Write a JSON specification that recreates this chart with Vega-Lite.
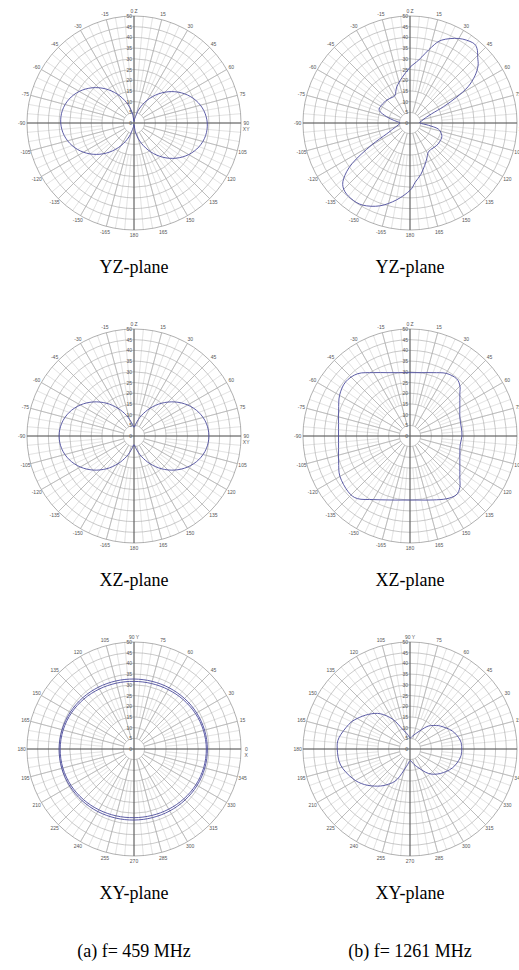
{
"$schema": "https://vega.github.io/schema/vega-lite/v6.json",
"background": "white",
"padding": {"left": 17, "top": 8, "right": 0, "bottom": 0},
"autosize": {"type": "pad"},
"bounds": "flush",
"columns": 2,
"spacing": {"row": 99, "column": 62},
"datasets": {
"rings": [{"r":5,"k":"ring"},{"r":10,"k":"ring"},{"r":15,"k":"ring"},{"r":20,"k":"ring"},{"r":25,"k":"ring"},{"r":30,"k":"ring"},{"r":35,"k":"ring"},{"r":40,"k":"ring"},{"r":45,"k":"ring"},{"r":50,"k":"outer"}],
"spokes": [
{"a":0,"r1":0,"r2":50,"k":"axis"},{"a":90,"r1":0,"r2":50,"k":"axis"},{"a":180,"r1":0,"r2":50,"k":"axis"},{"a":270,"r1":0,"r2":50,"k":"axis"},
{"a":15,"r1":5,"r2":50,"k":"major"},{"a":30,"r1":5,"r2":50,"k":"major"},{"a":45,"r1":5,"r2":50,"k":"major"},{"a":60,"r1":5,"r2":50,"k":"major"},{"a":75,"r1":5,"r2":50,"k":"major"},
{"a":105,"r1":5,"r2":50,"k":"major"},{"a":120,"r1":5,"r2":50,"k":"major"},{"a":135,"r1":5,"r2":50,"k":"major"},{"a":150,"r1":5,"r2":50,"k":"major"},{"a":165,"r1":5,"r2":50,"k":"major"},
{"a":195,"r1":5,"r2":50,"k":"major"},{"a":210,"r1":5,"r2":50,"k":"major"},{"a":225,"r1":5,"r2":50,"k":"major"},{"a":240,"r1":5,"r2":50,"k":"major"},{"a":255,"r1":5,"r2":50,"k":"major"},
{"a":285,"r1":5,"r2":50,"k":"major"},{"a":300,"r1":5,"r2":50,"k":"major"},{"a":315,"r1":5,"r2":50,"k":"major"},{"a":330,"r1":5,"r2":50,"k":"major"},{"a":345,"r1":5,"r2":50,"k":"major"},
{"a":5,"r1":15,"r2":50,"k":"minor"},{"a":10,"r1":15,"r2":50,"k":"minor"},{"a":20,"r1":15,"r2":50,"k":"minor"},{"a":25,"r1":15,"r2":50,"k":"minor"},{"a":35,"r1":15,"r2":50,"k":"minor"},{"a":40,"r1":15,"r2":50,"k":"minor"},
{"a":50,"r1":15,"r2":50,"k":"minor"},{"a":55,"r1":15,"r2":50,"k":"minor"},{"a":65,"r1":15,"r2":50,"k":"minor"},{"a":70,"r1":15,"r2":50,"k":"minor"},{"a":80,"r1":15,"r2":50,"k":"minor"},{"a":85,"r1":15,"r2":50,"k":"minor"},
{"a":95,"r1":15,"r2":50,"k":"minor"},{"a":100,"r1":15,"r2":50,"k":"minor"},{"a":110,"r1":15,"r2":50,"k":"minor"},{"a":115,"r1":15,"r2":50,"k":"minor"},{"a":125,"r1":15,"r2":50,"k":"minor"},{"a":130,"r1":15,"r2":50,"k":"minor"},
{"a":140,"r1":15,"r2":50,"k":"minor"},{"a":145,"r1":15,"r2":50,"k":"minor"},{"a":155,"r1":15,"r2":50,"k":"minor"},{"a":160,"r1":15,"r2":50,"k":"minor"},{"a":170,"r1":15,"r2":50,"k":"minor"},{"a":175,"r1":15,"r2":50,"k":"minor"},
{"a":185,"r1":15,"r2":50,"k":"minor"},{"a":190,"r1":15,"r2":50,"k":"minor"},{"a":200,"r1":15,"r2":50,"k":"minor"},{"a":205,"r1":15,"r2":50,"k":"minor"},{"a":215,"r1":15,"r2":50,"k":"minor"},{"a":220,"r1":15,"r2":50,"k":"minor"},
{"a":230,"r1":15,"r2":50,"k":"minor"},{"a":235,"r1":15,"r2":50,"k":"minor"},{"a":245,"r1":15,"r2":50,"k":"minor"},{"a":250,"r1":15,"r2":50,"k":"minor"},{"a":260,"r1":15,"r2":50,"k":"minor"},{"a":265,"r1":15,"r2":50,"k":"minor"},
{"a":275,"r1":15,"r2":50,"k":"minor"},{"a":280,"r1":15,"r2":50,"k":"minor"},{"a":290,"r1":15,"r2":50,"k":"minor"},{"a":295,"r1":15,"r2":50,"k":"minor"},{"a":305,"r1":15,"r2":50,"k":"minor"},{"a":310,"r1":15,"r2":50,"k":"minor"},
{"a":320,"r1":15,"r2":50,"k":"minor"},{"a":325,"r1":15,"r2":50,"k":"minor"},{"a":335,"r1":15,"r2":50,"k":"minor"},{"a":340,"r1":15,"r2":50,"k":"minor"},{"a":350,"r1":15,"r2":50,"k":"minor"},{"a":355,"r1":15,"r2":50,"k":"minor"}
],
"rlab": [{"r":0,"t":"0"},{"r":5,"t":"5"},{"r":10,"t":"10"},{"r":15,"t":"15"},{"r":20,"t":"20"},{"r":25,"t":"25"},{"r":30,"t":"30"},{"r":35,"t":"35"},{"r":40,"t":"40"},{"r":45,"t":"45"},{"r":50,"t":"50"}],
"alabA": [{"a":0,"t":"0    Z"},{"a":15,"t":"15"},{"a":30,"t":"30"},{"a":45,"t":"45"},{"a":60,"t":"60"},{"a":75,"t":"75"},{"a":90,"t":"90"},{"a":93,"t":"XY"},{"a":105,"t":"105"},{"a":120,"t":"120"},{"a":135,"t":"135"},{"a":150,"t":"150"},{"a":165,"t":"165"},{"a":180,"t":"180"},{"a":-165,"t":"-165"},{"a":-150,"t":"-150"},{"a":-135,"t":"-135"},{"a":-120,"t":"-120"},{"a":-105,"t":"-105"},{"a":-90,"t":"-90"},{"a":-75,"t":"-75"},{"a":-60,"t":"-60"},{"a":-45,"t":"-45"},{"a":-30,"t":"-30"},{"a":-15,"t":"-15"}],
"alabB": [{"a":90,"t":"90    Y"},{"a":75,"t":"75"},{"a":60,"t":"60"},{"a":45,"t":"45"},{"a":30,"t":"30"},{"a":15,"t":"15"},{"a":0,"t":"0"},{"a":-3,"t":"X"},{"a":345,"t":"345"},{"a":330,"t":"330"},{"a":315,"t":"315"},{"a":300,"t":"300"},{"a":285,"t":"285"},{"a":270,"t":"270"},{"a":255,"t":"255"},{"a":240,"t":"240"},{"a":225,"t":"225"},{"a":210,"t":"210"},{"a":195,"t":"195"},{"a":180,"t":"180"},{"a":165,"t":"165"},{"a":150,"t":"150"},{"a":135,"t":"135"},{"a":120,"t":"120"},{"a":105,"t":"105"}],
"p1": [{"a":-180,"g":0.74},{"a":-170,"g":2.22},{"a":-160,"g":6.94},{"a":-150,"g":12.29},{"a":-140,"g":17.73},{"a":-130,"g":22.84},{"a":-120,"g":27.29},{"a":-110,"g":30.8},{"a":-100,"g":33.16},{"a":-90,"g":34.24},{"a":-80,"g":33.97},{"a":-70,"g":32.37},{"a":-60,"g":29.52},{"a":-50,"g":25.6},{"a":-40,"g":20.86},{"a":-30,"g":15.57},{"a":-20,"g":10.11},{"a":-10,"g":4.93},{"a":0,"g":0.74},{"a":10,"g":2.22},{"a":20,"g":6.94},{"a":30,"g":12.29},{"a":40,"g":17.73},{"a":50,"g":22.84},{"a":60,"g":27.29},{"a":70,"g":30.8},{"a":80,"g":33.16},{"a":90,"g":34.24},{"a":100,"g":33.97},{"a":110,"g":32.37},{"a":120,"g":29.52},{"a":130,"g":25.6},{"a":140,"g":20.86},{"a":150,"g":15.57},{"a":160,"g":10.11},{"a":170,"g":4.93}],
"p2": [{"a":-180,"g":31.5},{"a":-170,"g":36.5},{"a":-160,"g":41.2},{"a":-150,"g":44.3},{"a":-142,"g":44.8},{"a":-135,"g":43.8},{"a":-130,"g":40.5},{"a":-125,"g":33},{"a":-120,"g":21},{"a":-115,"g":12},{"a":-110,"g":8.7},{"a":-100,"g":5.7},{"a":-90,"g":4.7},{"a":-85,"g":5.5},{"a":-80,"g":8},{"a":-75,"g":11.3},{"a":-68,"g":15.5},{"a":-58,"g":15.7},{"a":-45,"g":15.2},{"a":-35,"g":14.6},{"a":-28,"g":14.8},{"a":-20,"g":18},{"a":-10,"g":21.5},{"a":0,"g":26},{"a":8,"g":29.8},{"a":16,"g":37},{"a":21,"g":41.5},{"a":30,"g":45.6},{"a":38,"g":47.6},{"a":42,"g":46.8},{"a":46,"g":44},{"a":50,"g":41.5},{"a":54,"g":37.5},{"a":58,"g":32},{"a":61,"g":25},{"a":64,"g":17.5},{"a":67,"g":11},{"a":72,"g":7.5},{"a":80,"g":5.5},{"a":90,"g":4.7},{"a":97,"g":8.7},{"a":102,"g":13.5},{"a":111,"g":15.9},{"a":120,"g":16.4},{"a":130,"g":16.3},{"a":140,"g":15.8},{"a":148,"g":16.1},{"a":155,"g":18.5},{"a":161,"g":21},{"a":168,"g":24.5},{"a":175,"g":27.8}],
"p3": [{"a":-180,"g":4},{"a":-170,"g":6.24},{"a":-160,"g":10.2},{"a":-150,"g":14.96},{"a":-140,"g":19.98},{"a":-130,"g":24.78},{"a":-120,"g":28.98},{"a":-110,"g":32.24},{"a":-100,"g":34.3},{"a":-90,"g":35},{"a":-80,"g":34.3},{"a":-70,"g":32.24},{"a":-60,"g":28.98},{"a":-50,"g":24.78},{"a":-40,"g":19.98},{"a":-30,"g":14.96},{"a":-20,"g":10.2},{"a":-10,"g":6.24},{"a":0,"g":4},{"a":10,"g":6.24},{"a":20,"g":10.2},{"a":30,"g":14.96},{"a":40,"g":19.98},{"a":50,"g":24.78},{"a":60,"g":28.98},{"a":70,"g":32.24},{"a":80,"g":34.3},{"a":90,"g":35},{"a":100,"g":34.3},{"a":110,"g":32.24},{"a":120,"g":28.98},{"a":130,"g":24.78},{"a":140,"g":19.98},{"a":150,"g":14.96},{"a":160,"g":10.2},{"a":170,"g":6.24}],
"p4": [{"a":-170,"g":30.4},{"a":-160,"g":31.8},{"a":-150,"g":34.3},{"a":-140,"g":38.2},{"a":-132,"g":38.9},{"a":-120,"g":37.8},{"a":-110,"g":35.5},{"a":-100,"g":33.9},{"a":-90,"g":33.4},{"a":-80,"g":33.9},{"a":-70,"g":35.5},{"a":-60,"g":38},{"a":-50,"g":39.3},{"a":-40,"g":38},{"a":-30,"g":34.2},{"a":-20,"g":31.5},{"a":-10,"g":30.06},{"a":0,"g":29.6},{"a":10,"g":30.06},{"a":20,"g":31.5},{"a":30,"g":33.8},{"a":39,"g":34.5},{"a":45,"g":33},{"a":50,"g":30.4},{"a":60,"g":26.9},{"a":70,"g":24.8},{"a":80,"g":24.3},{"a":90,"g":24.3},{"a":100,"g":23.8},{"a":110,"g":24.8},{"a":120,"g":26.9},{"a":130,"g":30.4},{"a":136,"g":33.5},{"a":142,"g":35},{"a":150,"g":33.9},{"a":160,"g":31.8},{"a":170,"g":30.4},{"a":180,"g":29.9}],
"p5": [
{"s":"A","a":0,"g":34.3},{"s":"A","a":15,"g":34.13},{"s":"A","a":30,"g":33.8},{"s":"A","a":45,"g":33.38},{"s":"A","a":60,"g":32.98},{"s":"A","a":75,"g":32.73},{"s":"A","a":90,"g":32.7},{"s":"A","a":105,"g":32.91},{"s":"A","a":120,"g":33.33},{"s":"A","a":135,"g":33.87},{"s":"A","a":150,"g":34.4},{"s":"A","a":165,"g":34.81},{"s":"A","a":180,"g":35},{"s":"A","a":195,"g":34.94},{"s":"A","a":210,"g":34.65},{"s":"A","a":225,"g":34.22},{"s":"A","a":240,"g":33.77},{"s":"A","a":255,"g":33.4},{"s":"A","a":270,"g":33.2},{"s":"A","a":285,"g":33.21},{"s":"A","a":300,"g":33.42},{"s":"A","a":315,"g":33.73},{"s":"A","a":330,"g":34.05},{"s":"A","a":345,"g":34.26},
{"s":"B","a":0,"g":33.8},{"s":"B","a":15,"g":33.59},{"s":"B","a":30,"g":33.15},{"s":"B","a":45,"g":32.58},{"s":"B","a":60,"g":32.03},{"s":"B","a":75,"g":31.67},{"s":"B","a":90,"g":31.6},{"s":"B","a":105,"g":31.85},{"s":"B","a":120,"g":32.38},{"s":"B","a":135,"g":33.07},{"s":"B","a":150,"g":33.75},{"s":"B","a":165,"g":34.27},{"s":"B","a":180,"g":34.5},{"s":"B","a":195,"g":34.4},{"s":"B","a":210,"g":34},{"s":"B","a":225,"g":33.42},{"s":"B","a":240,"g":32.82},{"s":"B","a":255,"g":32.34},{"s":"B","a":270,"g":32.1},{"s":"B","a":285,"g":32.15},{"s":"B","a":300,"g":32.47},{"s":"B","a":315,"g":32.93},{"s":"B","a":330,"g":33.4},{"s":"B","a":345,"g":33.72}],
"p6": [{"a":0,"g":24.2},{"a":10,"g":23.8},{"a":23,"g":21.5},{"a":37,"g":17.8},{"a":45,"g":15.5},{"a":53,"g":13.1},{"a":67,"g":8.2},{"a":80,"g":6},{"a":90,"g":5.2},{"a":100,"g":7},{"a":111,"g":10},{"a":120,"g":16},{"a":130,"g":21.5},{"a":140,"g":25.2},{"a":150,"g":28.5},{"a":158,"g":30.8},{"a":171,"g":33.6},{"a":180,"g":34},{"a":193,"g":33.3},{"a":207,"g":30.2},{"a":218,"g":27},{"a":229,"g":23},{"a":238,"g":19.5},{"a":247,"g":15.5},{"a":258,"g":8.5},{"a":270,"g":5.5},{"a":280,"g":6.5},{"a":291,"g":8.8},{"a":307,"g":14.3},{"a":321,"g":18.2},{"a":336,"g":21.7},{"a":350,"g":23.8}]
},
"concat": [
{"width":214,"height":214,"title":{"text":"YZ-plane"},
"layer":[
{"data":{"name":"spokes"},"transform":[{"filter":"datum.k=='minor'"}],"mark":{"type":"arc","filled":false,"color":"#dcdcdc","strokeWidth":0.5},"encoding":{"theta":{"field":"a","type":"quantitative","stack":null,"scale":{"domain":[0,360],"range":[0,6.283185]}},"theta2":{"field":"a"},"radius":{"field":"r2","type":"quantitative","stack":null,"scale":{"type":"linear","domain":[0,50],"range":[0,107],"zero":true}},"radius2":{"field":"r1"}}},
{"data":{"name":"rings"},"mark":{"type":"arc","filled":false,"strokeWidth":0.6},"encoding":{"theta":{"value":0},"theta2":{"value":6.2832},"radius":{"field":"r","type":"quantitative","stack":null,"scale":{"type":"linear","domain":[0,50],"range":[0,107],"zero":true}},"color":{"field":"k","type":"nominal","scale":{"domain":["ring","outer"],"range":["#a4a4a4","#7a7a7a"]},"legend":null}}},
{"data":{"name":"spokes"},"transform":[{"filter":"datum.k=='major'"}],"mark":{"type":"arc","filled":false,"color":"#acacac","strokeWidth":0.55},"encoding":{"theta":{"field":"a","type":"quantitative","stack":null,"scale":{"domain":[0,360],"range":[0,6.283185]}},"theta2":{"field":"a"},"radius":{"field":"r2","type":"quantitative","stack":null,"scale":{"type":"linear","domain":[0,50],"range":[0,107],"zero":true}},"radius2":{"field":"r1"}}},
{"data":{"name":"spokes"},"transform":[{"filter":"datum.k=='axis'"}],"mark":{"type":"arc","filled":false,"color":"#666666","strokeWidth":0.75},"encoding":{"theta":{"field":"a","type":"quantitative","stack":null,"scale":{"domain":[0,360],"range":[0,6.283185]}},"theta2":{"field":"a"},"radius":{"field":"r2","type":"quantitative","stack":null,"scale":{"type":"linear","domain":[0,50],"range":[0,107],"zero":true}},"radius2":{"field":"r1"}}},
{"data":{"name":"rlab"},"mark":{"type":"text","align":"right","baseline":"middle","dx":-2,"font":"Liberation Sans","fontSize":5,"color":"#555555"},"encoding":{"theta":{"value":0},"radius":{"field":"r","type":"quantitative","stack":null,"scale":{"type":"linear","domain":[0,50],"range":[0,107],"zero":true}},"text":{"field":"t"}}},
{"data":{"name":"alabA"},"mark":{"type":"text","align":"center","baseline":"middle","font":"Liberation Sans","fontSize":5,"color":"#555555"},"encoding":{"theta":{"field":"a","type":"quantitative","stack":null,"scale":{"domain":[0,360],"range":[0,6.283185]}},"radius":{"datum":52.5,"type":"quantitative","scale":{"type":"linear","domain":[0,50],"range":[0,107],"zero":true}},"text":{"field":"t"}}},
{"data":{"name":"p1"},"transform":[{"calculate":"datum.g*sin(datum.a*PI/180)","as":"x"},{"calculate":"datum.g*cos(datum.a*PI/180)","as":"y"}],"mark":{"type":"line","interpolate":"cardinal-closed","color":"#4b4b9c","strokeWidth":0.9},"encoding":{"x":{"field":"x","type":"quantitative","scale":{"domain":[-50,50],"nice":false,"zero":false},"axis":null},"y":{"field":"y","type":"quantitative","scale":{"domain":[-50,50],"nice":false,"zero":false},"axis":null},"order":{"field":"a","type":"quantitative"}}}
]},
{"width":214,"height":214,"title":{"text":"YZ-plane"},
"layer":[
{"data":{"name":"spokes"},"transform":[{"filter":"datum.k=='minor'"}],"mark":{"type":"arc","filled":false,"color":"#dcdcdc","strokeWidth":0.5},"encoding":{"theta":{"field":"a","type":"quantitative","stack":null,"scale":{"domain":[0,360],"range":[0,6.283185]}},"theta2":{"field":"a"},"radius":{"field":"r2","type":"quantitative","stack":null,"scale":{"type":"linear","domain":[0,50],"range":[0,107],"zero":true}},"radius2":{"field":"r1"}}},
{"data":{"name":"rings"},"mark":{"type":"arc","filled":false,"strokeWidth":0.6},"encoding":{"theta":{"value":0},"theta2":{"value":6.2832},"radius":{"field":"r","type":"quantitative","stack":null,"scale":{"type":"linear","domain":[0,50],"range":[0,107],"zero":true}},"color":{"field":"k","type":"nominal","scale":{"domain":["ring","outer"],"range":["#a4a4a4","#7a7a7a"]},"legend":null}}},
{"data":{"name":"spokes"},"transform":[{"filter":"datum.k=='major'"}],"mark":{"type":"arc","filled":false,"color":"#acacac","strokeWidth":0.55},"encoding":{"theta":{"field":"a","type":"quantitative","stack":null,"scale":{"domain":[0,360],"range":[0,6.283185]}},"theta2":{"field":"a"},"radius":{"field":"r2","type":"quantitative","stack":null,"scale":{"type":"linear","domain":[0,50],"range":[0,107],"zero":true}},"radius2":{"field":"r1"}}},
{"data":{"name":"spokes"},"transform":[{"filter":"datum.k=='axis'"}],"mark":{"type":"arc","filled":false,"color":"#666666","strokeWidth":0.75},"encoding":{"theta":{"field":"a","type":"quantitative","stack":null,"scale":{"domain":[0,360],"range":[0,6.283185]}},"theta2":{"field":"a"},"radius":{"field":"r2","type":"quantitative","stack":null,"scale":{"type":"linear","domain":[0,50],"range":[0,107],"zero":true}},"radius2":{"field":"r1"}}},
{"data":{"name":"rlab"},"mark":{"type":"text","align":"right","baseline":"middle","dx":-2,"font":"Liberation Sans","fontSize":5,"color":"#555555"},"encoding":{"theta":{"value":0},"radius":{"field":"r","type":"quantitative","stack":null,"scale":{"type":"linear","domain":[0,50],"range":[0,107],"zero":true}},"text":{"field":"t"}}},
{"data":{"name":"alabA"},"mark":{"type":"text","align":"center","baseline":"middle","font":"Liberation Sans","fontSize":5,"color":"#555555"},"encoding":{"theta":{"field":"a","type":"quantitative","stack":null,"scale":{"domain":[0,360],"range":[0,6.283185]}},"radius":{"datum":52.5,"type":"quantitative","scale":{"type":"linear","domain":[0,50],"range":[0,107],"zero":true}},"text":{"field":"t"}}},
{"data":{"name":"p2"},"transform":[{"calculate":"datum.g*sin(datum.a*PI/180)","as":"x"},{"calculate":"datum.g*cos(datum.a*PI/180)","as":"y"}],"mark":{"type":"line","interpolate":"cardinal-closed","color":"#4b4b9c","strokeWidth":0.9},"encoding":{"x":{"field":"x","type":"quantitative","scale":{"domain":[-50,50],"nice":false,"zero":false},"axis":null},"y":{"field":"y","type":"quantitative","scale":{"domain":[-50,50],"nice":false,"zero":false},"axis":null},"order":{"field":"a","type":"quantitative"}}}
]},
{"width":214,"height":214,"title":{"text":"XZ-plane"},
"layer":[
{"data":{"name":"spokes"},"transform":[{"filter":"datum.k=='minor'"}],"mark":{"type":"arc","filled":false,"color":"#dcdcdc","strokeWidth":0.5},"encoding":{"theta":{"field":"a","type":"quantitative","stack":null,"scale":{"domain":[0,360],"range":[0,6.283185]}},"theta2":{"field":"a"},"radius":{"field":"r2","type":"quantitative","stack":null,"scale":{"type":"linear","domain":[0,50],"range":[0,107],"zero":true}},"radius2":{"field":"r1"}}},
{"data":{"name":"rings"},"mark":{"type":"arc","filled":false,"strokeWidth":0.6},"encoding":{"theta":{"value":0},"theta2":{"value":6.2832},"radius":{"field":"r","type":"quantitative","stack":null,"scale":{"type":"linear","domain":[0,50],"range":[0,107],"zero":true}},"color":{"field":"k","type":"nominal","scale":{"domain":["ring","outer"],"range":["#a4a4a4","#7a7a7a"]},"legend":null}}},
{"data":{"name":"spokes"},"transform":[{"filter":"datum.k=='major'"}],"mark":{"type":"arc","filled":false,"color":"#acacac","strokeWidth":0.55},"encoding":{"theta":{"field":"a","type":"quantitative","stack":null,"scale":{"domain":[0,360],"range":[0,6.283185]}},"theta2":{"field":"a"},"radius":{"field":"r2","type":"quantitative","stack":null,"scale":{"type":"linear","domain":[0,50],"range":[0,107],"zero":true}},"radius2":{"field":"r1"}}},
{"data":{"name":"spokes"},"transform":[{"filter":"datum.k=='axis'"}],"mark":{"type":"arc","filled":false,"color":"#666666","strokeWidth":0.75},"encoding":{"theta":{"field":"a","type":"quantitative","stack":null,"scale":{"domain":[0,360],"range":[0,6.283185]}},"theta2":{"field":"a"},"radius":{"field":"r2","type":"quantitative","stack":null,"scale":{"type":"linear","domain":[0,50],"range":[0,107],"zero":true}},"radius2":{"field":"r1"}}},
{"data":{"name":"rlab"},"mark":{"type":"text","align":"right","baseline":"middle","dx":-2,"font":"Liberation Sans","fontSize":5,"color":"#555555"},"encoding":{"theta":{"value":0},"radius":{"field":"r","type":"quantitative","stack":null,"scale":{"type":"linear","domain":[0,50],"range":[0,107],"zero":true}},"text":{"field":"t"}}},
{"data":{"name":"alabA"},"mark":{"type":"text","align":"center","baseline":"middle","font":"Liberation Sans","fontSize":5,"color":"#555555"},"encoding":{"theta":{"field":"a","type":"quantitative","stack":null,"scale":{"domain":[0,360],"range":[0,6.283185]}},"radius":{"datum":52.5,"type":"quantitative","scale":{"type":"linear","domain":[0,50],"range":[0,107],"zero":true}},"text":{"field":"t"}}},
{"data":{"name":"p3"},"transform":[{"calculate":"datum.g*sin(datum.a*PI/180)","as":"x"},{"calculate":"datum.g*cos(datum.a*PI/180)","as":"y"}],"mark":{"type":"line","interpolate":"cardinal-closed","color":"#4b4b9c","strokeWidth":0.9},"encoding":{"x":{"field":"x","type":"quantitative","scale":{"domain":[-50,50],"nice":false,"zero":false},"axis":null},"y":{"field":"y","type":"quantitative","scale":{"domain":[-50,50],"nice":false,"zero":false},"axis":null},"order":{"field":"a","type":"quantitative"}}}
]},
{"width":214,"height":214,"title":{"text":"XZ-plane"},
"layer":[
{"data":{"name":"spokes"},"transform":[{"filter":"datum.k=='minor'"}],"mark":{"type":"arc","filled":false,"color":"#dcdcdc","strokeWidth":0.5},"encoding":{"theta":{"field":"a","type":"quantitative","stack":null,"scale":{"domain":[0,360],"range":[0,6.283185]}},"theta2":{"field":"a"},"radius":{"field":"r2","type":"quantitative","stack":null,"scale":{"type":"linear","domain":[0,50],"range":[0,107],"zero":true}},"radius2":{"field":"r1"}}},
{"data":{"name":"rings"},"mark":{"type":"arc","filled":false,"strokeWidth":0.6},"encoding":{"theta":{"value":0},"theta2":{"value":6.2832},"radius":{"field":"r","type":"quantitative","stack":null,"scale":{"type":"linear","domain":[0,50],"range":[0,107],"zero":true}},"color":{"field":"k","type":"nominal","scale":{"domain":["ring","outer"],"range":["#a4a4a4","#7a7a7a"]},"legend":null}}},
{"data":{"name":"spokes"},"transform":[{"filter":"datum.k=='major'"}],"mark":{"type":"arc","filled":false,"color":"#acacac","strokeWidth":0.55},"encoding":{"theta":{"field":"a","type":"quantitative","stack":null,"scale":{"domain":[0,360],"range":[0,6.283185]}},"theta2":{"field":"a"},"radius":{"field":"r2","type":"quantitative","stack":null,"scale":{"type":"linear","domain":[0,50],"range":[0,107],"zero":true}},"radius2":{"field":"r1"}}},
{"data":{"name":"spokes"},"transform":[{"filter":"datum.k=='axis'"}],"mark":{"type":"arc","filled":false,"color":"#666666","strokeWidth":0.75},"encoding":{"theta":{"field":"a","type":"quantitative","stack":null,"scale":{"domain":[0,360],"range":[0,6.283185]}},"theta2":{"field":"a"},"radius":{"field":"r2","type":"quantitative","stack":null,"scale":{"type":"linear","domain":[0,50],"range":[0,107],"zero":true}},"radius2":{"field":"r1"}}},
{"data":{"name":"rlab"},"mark":{"type":"text","align":"right","baseline":"middle","dx":-2,"font":"Liberation Sans","fontSize":5,"color":"#555555"},"encoding":{"theta":{"value":0},"radius":{"field":"r","type":"quantitative","stack":null,"scale":{"type":"linear","domain":[0,50],"range":[0,107],"zero":true}},"text":{"field":"t"}}},
{"data":{"name":"alabA"},"mark":{"type":"text","align":"center","baseline":"middle","font":"Liberation Sans","fontSize":5,"color":"#555555"},"encoding":{"theta":{"field":"a","type":"quantitative","stack":null,"scale":{"domain":[0,360],"range":[0,6.283185]}},"radius":{"datum":52.5,"type":"quantitative","scale":{"type":"linear","domain":[0,50],"range":[0,107],"zero":true}},"text":{"field":"t"}}},
{"data":{"name":"p4"},"transform":[{"calculate":"datum.g*sin(datum.a*PI/180)","as":"x"},{"calculate":"datum.g*cos(datum.a*PI/180)","as":"y"}],"mark":{"type":"line","interpolate":"cardinal-closed","color":"#4b4b9c","strokeWidth":0.9},"encoding":{"x":{"field":"x","type":"quantitative","scale":{"domain":[-50,50],"nice":false,"zero":false},"axis":null},"y":{"field":"y","type":"quantitative","scale":{"domain":[-50,50],"nice":false,"zero":false},"axis":null},"order":{"field":"a","type":"quantitative"}}}
]},
{"width":214,"height":214,"title":{"text":["XY-plane","(a) f= 459 MHz"],"lineHeight":58},
"resolve":{"scale":{"theta":"independent"}},
"layer":[
{"data":{"name":"spokes"},"transform":[{"filter":"datum.k=='minor'"}],"mark":{"type":"arc","filled":false,"color":"#dcdcdc","strokeWidth":0.5},"encoding":{"theta":{"field":"a","type":"quantitative","stack":null,"scale":{"domain":[0,360],"range":[0,6.283185]}},"theta2":{"field":"a"},"radius":{"field":"r2","type":"quantitative","stack":null,"scale":{"type":"linear","domain":[0,50],"range":[0,107],"zero":true}},"radius2":{"field":"r1"}}},
{"data":{"name":"rings"},"mark":{"type":"arc","filled":false,"strokeWidth":0.6},"encoding":{"theta":{"value":0},"theta2":{"value":6.2832},"radius":{"field":"r","type":"quantitative","stack":null,"scale":{"type":"linear","domain":[0,50],"range":[0,107],"zero":true}},"color":{"field":"k","type":"nominal","scale":{"domain":["ring","outer"],"range":["#a4a4a4","#7a7a7a"]},"legend":null}}},
{"data":{"name":"spokes"},"transform":[{"filter":"datum.k=='major'"}],"mark":{"type":"arc","filled":false,"color":"#acacac","strokeWidth":0.55},"encoding":{"theta":{"field":"a","type":"quantitative","stack":null,"scale":{"domain":[0,360],"range":[0,6.283185]}},"theta2":{"field":"a"},"radius":{"field":"r2","type":"quantitative","stack":null,"scale":{"type":"linear","domain":[0,50],"range":[0,107],"zero":true}},"radius2":{"field":"r1"}}},
{"data":{"name":"spokes"},"transform":[{"filter":"datum.k=='axis'"}],"mark":{"type":"arc","filled":false,"color":"#666666","strokeWidth":0.75},"encoding":{"theta":{"field":"a","type":"quantitative","stack":null,"scale":{"domain":[0,360],"range":[0,6.283185]}},"theta2":{"field":"a"},"radius":{"field":"r2","type":"quantitative","stack":null,"scale":{"type":"linear","domain":[0,50],"range":[0,107],"zero":true}},"radius2":{"field":"r1"}}},
{"data":{"name":"rlab"},"mark":{"type":"text","align":"right","baseline":"middle","dx":-2,"font":"Liberation Sans","fontSize":5,"color":"#555555"},"encoding":{"theta":{"value":0},"radius":{"field":"r","type":"quantitative","stack":null,"scale":{"type":"linear","domain":[0,50],"range":[0,107],"zero":true}},"text":{"field":"t"}}},
{"data":{"name":"alabB"},"mark":{"type":"text","align":"center","baseline":"middle","font":"Liberation Sans","fontSize":5,"color":"#555555"},"encoding":{"theta":{"field":"a","type":"quantitative","stack":null,"scale":{"domain":[90,-270],"range":[0,6.283185]}},"radius":{"datum":52.5,"type":"quantitative","scale":{"type":"linear","domain":[0,50],"range":[0,107],"zero":true}},"text":{"field":"t"}}},
{"data":{"name":"p5"},"transform":[{"calculate":"datum.g*cos(datum.a*PI/180)","as":"x"},{"calculate":"datum.g*sin(datum.a*PI/180)","as":"y"}],"mark":{"type":"line","interpolate":"cardinal-closed","color":"#4b4b9c","strokeWidth":0.9},"encoding":{"x":{"field":"x","type":"quantitative","scale":{"domain":[-50,50],"nice":false,"zero":false},"axis":null},"y":{"field":"y","type":"quantitative","scale":{"domain":[-50,50],"nice":false,"zero":false},"axis":null},"detail":{"field":"s","type":"nominal"},"order":{"field":"a","type":"quantitative"}}}
]},
{"width":214,"height":214,"title":{"text":["XY-plane","(b) f= 1261 MHz"],"lineHeight":58},
"resolve":{"scale":{"theta":"independent"}},
"layer":[
{"data":{"name":"spokes"},"transform":[{"filter":"datum.k=='minor'"}],"mark":{"type":"arc","filled":false,"color":"#dcdcdc","strokeWidth":0.5},"encoding":{"theta":{"field":"a","type":"quantitative","stack":null,"scale":{"domain":[0,360],"range":[0,6.283185]}},"theta2":{"field":"a"},"radius":{"field":"r2","type":"quantitative","stack":null,"scale":{"type":"linear","domain":[0,50],"range":[0,107],"zero":true}},"radius2":{"field":"r1"}}},
{"data":{"name":"rings"},"mark":{"type":"arc","filled":false,"strokeWidth":0.6},"encoding":{"theta":{"value":0},"theta2":{"value":6.2832},"radius":{"field":"r","type":"quantitative","stack":null,"scale":{"type":"linear","domain":[0,50],"range":[0,107],"zero":true}},"color":{"field":"k","type":"nominal","scale":{"domain":["ring","outer"],"range":["#a4a4a4","#7a7a7a"]},"legend":null}}},
{"data":{"name":"spokes"},"transform":[{"filter":"datum.k=='major'"}],"mark":{"type":"arc","filled":false,"color":"#acacac","strokeWidth":0.55},"encoding":{"theta":{"field":"a","type":"quantitative","stack":null,"scale":{"domain":[0,360],"range":[0,6.283185]}},"theta2":{"field":"a"},"radius":{"field":"r2","type":"quantitative","stack":null,"scale":{"type":"linear","domain":[0,50],"range":[0,107],"zero":true}},"radius2":{"field":"r1"}}},
{"data":{"name":"spokes"},"transform":[{"filter":"datum.k=='axis'"}],"mark":{"type":"arc","filled":false,"color":"#666666","strokeWidth":0.75},"encoding":{"theta":{"field":"a","type":"quantitative","stack":null,"scale":{"domain":[0,360],"range":[0,6.283185]}},"theta2":{"field":"a"},"radius":{"field":"r2","type":"quantitative","stack":null,"scale":{"type":"linear","domain":[0,50],"range":[0,107],"zero":true}},"radius2":{"field":"r1"}}},
{"data":{"name":"rlab"},"mark":{"type":"text","align":"right","baseline":"middle","dx":-2,"font":"Liberation Sans","fontSize":5,"color":"#555555"},"encoding":{"theta":{"value":0},"radius":{"field":"r","type":"quantitative","stack":null,"scale":{"type":"linear","domain":[0,50],"range":[0,107],"zero":true}},"text":{"field":"t"}}},
{"data":{"name":"alabB"},"mark":{"type":"text","align":"center","baseline":"middle","font":"Liberation Sans","fontSize":5,"color":"#555555"},"encoding":{"theta":{"field":"a","type":"quantitative","stack":null,"scale":{"domain":[90,-270],"range":[0,6.283185]}},"radius":{"datum":52.5,"type":"quantitative","scale":{"type":"linear","domain":[0,50],"range":[0,107],"zero":true}},"text":{"field":"t"}}},
{"data":{"name":"p6"},"transform":[{"calculate":"datum.g*cos(datum.a*PI/180)","as":"x"},{"calculate":"datum.g*sin(datum.a*PI/180)","as":"y"}],"mark":{"type":"line","interpolate":"cardinal-closed","color":"#4b4b9c","strokeWidth":0.9},"encoding":{"x":{"field":"x","type":"quantitative","scale":{"domain":[-50,50],"nice":false,"zero":false},"axis":null},"y":{"field":"y","type":"quantitative","scale":{"domain":[-50,50],"nice":false,"zero":false},"axis":null},"order":{"field":"a","type":"quantitative"}}}
]}
],
"config": {
"view": {"stroke": null},
"title": {"orient": "bottom", "font": "Liberation Serif", "fontSize": 18, "fontWeight": "normal", "color": "#000000", "offset": 21, "anchor": "middle"}
}
}
